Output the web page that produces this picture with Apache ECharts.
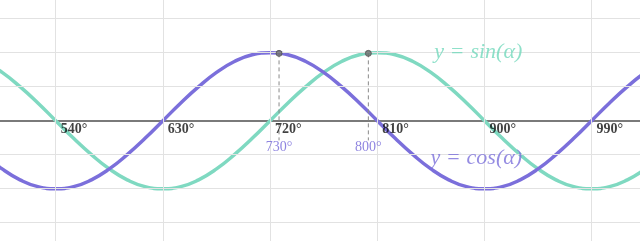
<!DOCTYPE html>
<html><head><meta charset="utf-8">
<script src="https://cdn.jsdelivr.net/npm/echarts@6/dist/echarts.min.js"></script>
<style>html,body{margin:0;padding:0;background:#fff}#c{width:640px;height:241px}</style>
</head><body><div id="c"></div>
<script>
// angles (degrees)
var angles = [480,495,510,525,540,555,570,585,600,615,630,645,660,675,690,705,720,735,750,765,780,795,810,825,840,855,870,885,900,915,930,945,960,975,990,1005,1020,1035,1050];
var sinValues = [0.87,0.71,0.5,0.26,0,-0.26,-0.5,-0.71,-0.87,-0.97,-1,-0.97,-0.87,-0.71,-0.5,-0.26,0,0.26,0.5,0.71,0.87,0.97,1,0.97,0.87,0.71,0.5,0.26,0,-0.26,-0.5,-0.71,-0.87,-0.97,-1,-0.97,-0.87,-0.71,-0.5];
var cosValues = [-0.5,-0.71,-0.87,-0.97,-1,-0.97,-0.87,-0.71,-0.5,-0.26,0,0.26,0.5,0.71,0.87,0.97,1,0.97,0.87,0.71,0.5,0.26,0,-0.26,-0.5,-0.71,-0.87,-0.97,-1,-0.97,-0.87,-0.71,-0.5,-0.26,0,0.26,0.5,0.71,0.87];
var xTicks = [540,630,720,810,900,990];
var yGrid = [-1.5,-1,-0.5,0.5,1,1.5];
var markedPoints = [[727.5,0.99],[802.5,0.99]];
var markedLabels = ['730°','800°'];
var dropEnd = -0.29;
var sinLabelAt = [894.8,1.0];
var cosLabelAt = [893.1,-0.545];

var PURPLE = '#7b6fdb', TEAL = '#7fd9c1';
function pairs(xs, ys){ return xs.map(function(x,i){return [x, ys[i]];}); }

var gridMarks = xTicks.map(function(v){return {xAxis:v};}).concat(yGrid.map(function(v){return {yAxis:v};}));

function mathLabel(color){
  return {show:true, position:'inside', color:color, fontFamily:'Liberation Serif', fontSize:22,
    rich:{i:{fontStyle:'italic', fontFamily:'Liberation Serif', fontSize:22, color:color},
          n:{fontFamily:'Liberation Serif', fontSize:22, color:color, padding:[0,7,0,7]}}};
}

var series = [
  {type:'line', data:[], z:0, silent:true,
   markLine:{silent:true, symbol:'none', label:{show:false},
     lineStyle:{color:'#e2e2e2', width:1, type:'solid'}, data:gridMarks, animation:false}},
  {type:'line', data:pairs(angles, sinValues), smooth:0.5, symbol:'none', z:3,
   lineStyle:{color:TEAL, width:3.5}},
  {type:'line', data:pairs(angles, cosValues), smooth:0.5, symbol:'none', z:4,
   lineStyle:{color:PURPLE, width:3.5}}
];
markedPoints.forEach(function(p){
  series.push({type:'line', data:[[p[0],p[1]],[p[0],dropEnd]], symbol:'none', z:5,
    lineStyle:{color:'#8a8a8a', width:1, type:[4,3]}});
});
series.push({type:'scatter', data:markedPoints, symbol:'circle', symbolSize:6, z:6,
  itemStyle:{color:'#6e6e6e', borderColor:'#505050', borderWidth:1}});
series.push({type:'scatter', data:markedPoints.map(function(p){return [p[0], dropEnd];}), symbolSize:0.1, z:6,
  itemStyle:{color:'rgba(0,0,0,0)'},
  label:{show:true, position:'bottom', distance:0, color:'#7366d8', fontFamily:'Liberation Serif', fontSize:14,
    formatter:function(p){return markedLabels[p.dataIndex];}}});
series.push({type:'scatter', data:xTicks.map(function(v){return [v,0];}), symbolSize:0.1, z:7,
  itemStyle:{color:'rgba(0,0,0,0)'},
  label:{show:true, position:[5,2], align:'left', verticalAlign:'top', color:'#111', fontWeight:'bold',
    fontFamily:'Liberation Serif', fontSize:14, formatter:function(p){return p.value[0]+'°';}}});
var sl = mathLabel('#72d8bb'); sl.formatter = '{i|y}{n|=}{i|sin(α)}';
var cl = mathLabel(PURPLE); cl.formatter = '{i|y}{n|=}{i|cos(α)}';
series.push({type:'scatter', data:[sinLabelAt], symbolSize:0.1, z:7, itemStyle:{color:'rgba(0,0,0,0)'}, label:sl});
series.push({type:'scatter', data:[cosLabelAt], symbolSize:0.1, z:7, itemStyle:{color:'rgba(0,0,0,0)'}, label:cl});

var chart = echarts.init(document.getElementById('c'), null, {renderer:'canvas'});
chart.setOption({
  animation:false,
  grid:{left:0, right:0, top:0, bottom:0, containLabel:false},
  xAxis:{type:'value', min:493.2, max:1030.6, z:1,
    axisLine:{show:true, onZero:true, lineStyle:{color:'#7a7a7a', width:2}},
    axisTick:{show:false}, axisLabel:{show:false}, splitLine:{show:false}},
  yAxis:{type:'value', min:-1.77, max:1.775,
    axisLine:{show:false}, axisTick:{show:false}, axisLabel:{show:false}, splitLine:{show:false}},
  series:series
});
</script></body></html>
